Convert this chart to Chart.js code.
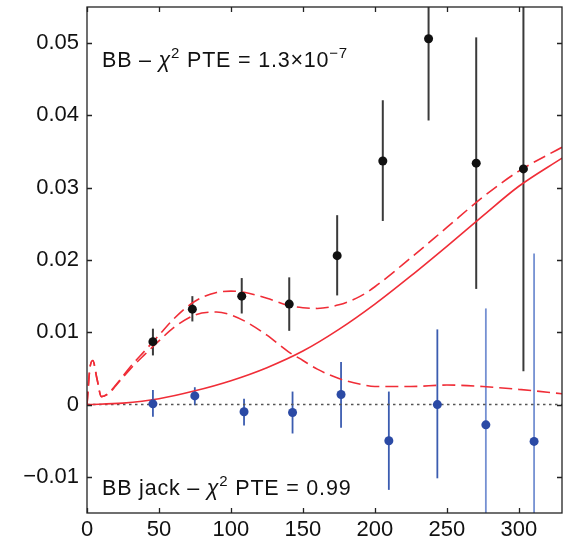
<!DOCTYPE html>
<html>
<head>
<meta charset="utf-8">
<script src="https://cdn.jsdelivr.net/npm/chart.js@4.4.0/dist/chart.umd.min.js"></script>
<style>
html,body{margin:0;padding:0;background:#fff;}
#wrap{width:567px;height:543px;}
</style>
</head>
<body>
<div id="wrap"><canvas id="c" width="567" height="543"></canvas></div>
<script>
// ---- data ----
const xTickValues = [0, 50, 100, 150, 200, 250, 300];
const yTickValues = [-0.01, 0, 0.01, 0.02, 0.03, 0.04, 0.05];

const bbX  = [45.8, 73.2, 107.5, 140.5, 173.8, 205.5, 237.3, 270.4, 303.2];
const bbY  = [0.0087, 0.0132, 0.0150, 0.0139, 0.0206, 0.0337, 0.0506, 0.0334, 0.0326];
const bbHi = [0.0105, 0.0150, 0.01750, 0.0176, 0.0262, 0.0421, 0.0619, 0.0508, 0.0606];
const bbLo = [0.0068, 0.0115, 0.0126, 0.0102, 0.0151, 0.0254, 0.0393, 0.0160, 0.0046];

const jackX  = [45.8, 74.9, 109.1, 142.8, 176.5, 209.7, 243.4, 277.1, 310.6];
const jackY  = [0.0001, 0.0012, -0.0010, -0.0011, 0.0014, -0.0050, 0.0000, -0.0028, -0.0051];
const jackHi = [0.0020, 0.0024, 0.0008, 0.0018, 0.0059, 0.0018, 0.0104, 0.0133, 0.0209];
const jackLo = [-0.0017, -0.0001, -0.0029, -0.0040, -0.0032, -0.0118, -0.0102, -0.0189, -0.0311];

const rX = [0, 25, 50, 75, 100, 125, 150, 175, 200, 225, 250, 275, 300, 330];
const rY = [0, 0.0002, 0.0008, 0.0019, 0.0033, 0.0051, 0.0074, 0.0104, 0.0139, 0.0178, 0.0219, 0.0261, 0.0302, 0.0341];

const lensX = [0, 2, 4, 7, 10, 15, 20, 30, 40, 50, 60, 75, 90, 100, 110, 125, 140, 150, 160, 175, 190, 200, 225, 250, 275, 300, 330];
const lensY = [0, 0.0050, 0.0061, 0.0035, 0.0011, 0.0015, 0.0026, 0.0049, 0.0069, 0.0088, 0.0106, 0.0124, 0.0128, 0.0124, 0.0115, 0.0096, 0.0073, 0.0061, 0.0049, 0.0036, 0.0028, 0.0025, 0.0025, 0.0027, 0.0025, 0.0021, 0.0015];
const sumY  = [0, 0.0050, 0.0061, 0.0035, 0.0011, 0.0016, 0.0027, 0.0052, 0.0074, 0.0096, 0.0118, 0.0143, 0.0155, 0.0157, 0.0155, 0.0147, 0.0137, 0.0134, 0.0133, 0.0138, 0.0150, 0.0163, 0.0203, 0.0245, 0.0287, 0.0323, 0.0356];

const zeroX = [0, 330];
const zeroY = [0, 0];

const labelTop = [{t:'BB \u2013 '},{t:'\u03c7',it:true},{t:'2',sup:true},{t:' PTE = 1.3\u00d710'},{t:'\u22127',sup:true}];
const labelBottom = [{t:'BB jack \u2013 '},{t:'\u03c7',it:true},{t:'2',sup:true},{t:' PTE = 0.99'}];

// ---- helpers ----
const pts = (xs, ys) => xs.map((x, i) => ({x: x, y: ys[i]}));
const RED = 'rgb(240,45,55)';
const FONT = '"Liberation Sans", Arial, sans-serif';

const errorBars = {
  id: 'errorBars',
  beforeDatasetsDraw(chart) {
    const {ctx, chartArea, scales} = chart;
    ctx.save();
    ctx.beginPath();
    ctx.rect(chartArea.left, chartArea.top, chartArea.right - chartArea.left, chartArea.bottom - chartArea.top);
    ctx.clip();
    const draw = (xs, lo, hi, colorFn, w) => {
      xs.forEach((x, i) => {
        const px = scales.x.getPixelForValue(x);
        ctx.strokeStyle = colorFn(i);
        ctx.lineWidth = w;
        ctx.beginPath();
        ctx.moveTo(px, scales.y.getPixelForValue(lo[i]));
        ctx.lineTo(px, scales.y.getPixelForValue(hi[i]));
        ctx.stroke();
      });
    };
    draw(bbX, bbLo, bbHi, () => '#3a3a3a', 2);
    draw(jackX, jackLo, jackHi, (i) => i >= 7 ? '#7590d2' : '#3b5cb0', 1.8);
    ctx.restore();
  }
};

const frame = {
  id: 'frame',
  afterDraw(chart) {
    const {ctx, chartArea: a, scales} = chart;
    ctx.save();
    ctx.strokeStyle = '#222';
    ctx.lineWidth = 1.3;
    ctx.strokeRect(a.left, a.top, a.right - a.left, a.bottom - a.top);
    const L = 5;
    ctx.beginPath();
    scales.x.ticks.forEach(t => {
      const px = Math.round(scales.x.getPixelForValue(t.value)) + 0.5;
      ctx.moveTo(px, a.bottom); ctx.lineTo(px, a.bottom - L);
      ctx.moveTo(px, a.top); ctx.lineTo(px, a.top + L);
    });
    scales.y.ticks.forEach(t => {
      const py = Math.round(scales.y.getPixelForValue(t.value)) + 0.5;
      ctx.moveTo(a.left, py); ctx.lineTo(a.left + L, py);
      ctx.moveTo(a.right, py); ctx.lineTo(a.right - L, py);
    });
    ctx.stroke();

    const drawRuns = (runs, x, y, size) => {
      ctx.fillStyle = '#111';
      ctx.textBaseline = 'alphabetic';
      ctx.textAlign = 'left';
      let cx = x;
      runs.forEach(r => {
        const fs = r.sup ? Math.round(size * 0.68) : size;
        ctx.font = (r.it ? 'italic ' : '') + fs + 'px ' + FONT;
        ctx.letterSpacing = '0.8px';
        const yy = r.sup ? y - size * 0.42 : y;
        ctx.fillText(r.t, cx, yy);
        cx += ctx.measureText(r.t).width;
      });
    };
    drawRuns(labelTop, a.left + 15, a.top + 60, 21.5);
    drawRuns(labelBottom, a.left + 15, a.bottom - 18, 21.5);
    ctx.restore();
  }
};

const fmtY = v => {
  if (Math.abs(v) < 1e-9) return '0';
  return (v < 0 ? '\u2212' : '') + Math.abs(v).toFixed(2);
};

new Chart(document.getElementById('c'), {
  type: 'scatter',
  data: {
    datasets: [
      {data: pts(bbX, bbY), pointRadius: 4.5, pointBackgroundColor: '#111', pointBorderColor: '#111', pointBorderWidth: 0, showLine: false},
      {data: pts(jackX, jackY), pointRadius: 4.5, pointBackgroundColor: '#2b4aa5', pointBorderColor: '#2b4aa5', pointBorderWidth: 0, showLine: false},
      {data: pts(rX, rY), showLine: true, borderColor: RED, borderWidth: 1.6, pointRadius: 0, cubicInterpolationMode: 'monotone', fill: false},
      {data: pts(lensX, lensY), showLine: true, borderColor: RED, borderWidth: 1.6, borderDash: [13, 6], pointRadius: 0, cubicInterpolationMode: 'monotone', fill: false},
      {data: pts(lensX, sumY), showLine: true, borderColor: RED, borderWidth: 1.6, borderDash: [13, 6], pointRadius: 0, cubicInterpolationMode: 'monotone', fill: false},
      {data: pts(zeroX, zeroY), showLine: true, borderColor: '#555', borderWidth: 1.6, borderDash: [2.5, 3.5], pointRadius: 0, fill: false}
    ]
  },
  options: {
    responsive: false,
    animation: false,
    devicePixelRatio: 1,
    layout: {padding: {left: 0, top: 7, right: 5, bottom: 0}},
    plugins: {legend: {display: false}, tooltip: {enabled: false}},
    scales: {
      x: {
        type: 'linear', min: 0, max: 330,
        grid: {display: false, drawTicks: false},
        border: {display: false},
        afterBuildTicks: s => { s.ticks = xTickValues.map(v => ({value: v})); },
        afterFit: s => { s.height = 30; s.paddingLeft = 0; s.paddingRight = 0; },
        ticks: {font: {size: 22, family: FONT}, color: '#111', padding: 4, maxRotation: 0, autoSkip: false,
                callback: v => String(v)}
      },
      y: {
        type: 'linear', min: -0.015, max: 0.055,
        grid: {display: false, drawTicks: false},
        border: {display: false},
        afterBuildTicks: s => { s.ticks = yTickValues.map(v => ({value: v})); },
        afterFit: s => { s.width = 87; s.paddingTop = 0; s.paddingBottom = 0; },
        ticks: {font: {size: 22, family: FONT}, color: '#111', padding: 8, autoSkip: false,
                callback: v => fmtY(v)}
      }
    }
  },
  plugins: [errorBars, frame]
});
</script>
</body>
</html>
